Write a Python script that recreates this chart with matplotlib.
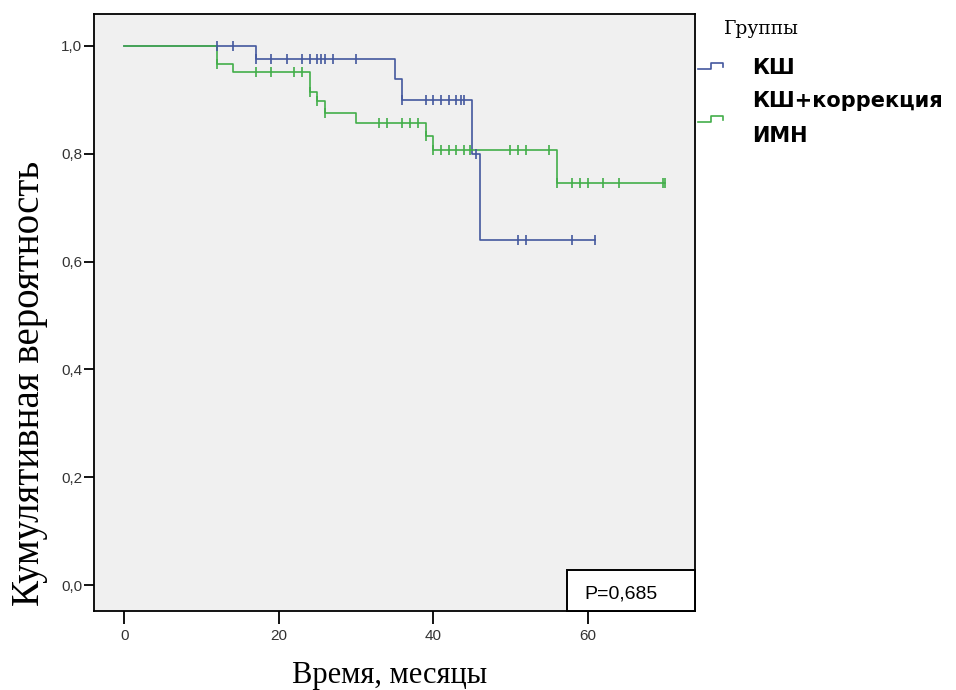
import matplotlib.pyplot as plt
import numpy as np
from matplotlib.lines import Line2D
from matplotlib.patches import Rectangle

# Kaplan-Meier steps (months, cumulative survival)
ksh_times = [0, 17, 35, 36, 45, 46]
ksh_surv = [1.0, 0.975, 0.938, 0.9, 0.8, 0.64]
ksh_end = 61
ksh_censored = [12, 14, 17, 19, 21, 23, 24, 25, 25.5, 26, 27, 30,
                36, 39, 40, 41, 42, 43, 43.6, 44, 45.5, 51, 52, 58, 61]

imn_times = [0, 12, 14, 24, 25, 26, 30, 39, 40, 56]
imn_surv = [1.0, 0.967, 0.951, 0.914, 0.897, 0.875, 0.856, 0.832, 0.807, 0.746]
imn_end = 70
imn_censored = [12, 17, 19, 22, 23, 24, 25, 26, 33, 34, 36, 37, 38, 39,
                40, 41, 42, 43, 44, 44.8, 50, 51, 52, 55, 56, 58, 59, 60,
                62, 64, 69.8, 70]

x_ticks = [0, 20, 40, 60]
y_ticks = [0.0, 0.2, 0.4, 0.6, 0.8, 1.0]
legend_lines = ['КШ', 'КШ+коррекция', 'ИМН']
p_text = 'P=0,685'

blue = '#44589e'
green = '#43ae4a'


def surv_at(times, surv, t):
    idx = np.searchsorted(times, t, side='right') - 1
    return np.asarray(surv)[idx]


W, H = 956, 690
fig = plt.figure(figsize=(W / 100, H / 100), dpi=100)
ax = fig.add_axes([94 / W, 1 - 611 / H, (695 - 94) / W, (611 - 14) / H])
ax.set_facecolor('#f0f0f0')

for times, surv, end, col in [(ksh_times, ksh_surv, ksh_end, blue),
                              (imn_times, imn_surv, imn_end, green)]:
    ax.step(list(times) + [end], list(surv) + [surv[-1]], where='post',
            color=col, lw=1.2, zorder=3)

for times, surv, cens, col in [(ksh_times, ksh_surv, ksh_censored, blue),
                               (imn_times, imn_surv, imn_censored, green)]:
    cy = surv_at(times, surv, np.array(cens))
    ax.plot(cens, cy, ls='none', marker='|', ms=7.5, mew=1.2, color=col, zorder=4)

ax.set_xlim(-3.95, 73.9)
ax.set_ylim(-0.048, 1.059)
ax.set_xticks(x_ticks)
ax.set_xticklabels([str(v) for v in x_ticks])
ax.set_yticks(y_ticks)
ax.set_yticklabels([f'{v:.1f}'.replace('.', ',') for v in y_ticks])
ax.tick_params(axis='x', length=9, width=1.3, pad=4, labelsize=11,
               labelcolor='#333333')
ax.tick_params(axis='y', length=7.5, width=1.3, pad=1, labelsize=11,
               labelcolor='#333333')
for lab in ax.get_xticklabels() + ax.get_yticklabels():
    lab.set_family('Liberation Sans')
for s in ax.spines.values():
    s.set_linewidth(1.3)

fig.text(390 / W, 1 - 675 / H, 'Время, месяцы', family='Liberation Serif',
         fontsize=22, ha='center', va='center')
fig.text(30 / W, 1 - 383 / H, 'Кумулятивная вероятность',
         family='Liberation Serif', fontsize=28, rotation=90,
         ha='center', va='center')

# p-value box
box = Rectangle((567 / W, 1 - 611 / H), (695 - 567) / W, (611 - 570) / H,
                transform=fig.transFigure, facecolor='white',
                edgecolor='black', lw=1.4, zorder=5)
fig.add_artist(box)
fig.text(584 / W, 1 - 594 / H, p_text, family='Liberation Sans',
         fontsize=14, va='center', ha='left', zorder=6)

# legend
fig.text(724 / W, 1 - 29 / H, 'Группы', family='DejaVu Serif',
         fontsize=13.5, va='center', ha='left')
for ybase, col in [(69, blue), (122, green)]:
    xs = np.array([698, 711, 711, 723, 723]) / W
    ys = 1 - np.array([ybase, ybase, ybase - 6, ybase - 6, ybase - 2]) / H
    fig.add_artist(Line2D(xs, ys, color=col, lw=1.2, transform=fig.transFigure))
for txt, yc in zip(legend_lines, [68, 101, 136]):
    fig.text(752 / W, 1 - yc / H, txt, family='DejaVu Sans',
             weight='bold', fontsize=15, va='center', ha='left')

fig.savefig('out.png', dpi=100, facecolor='white')
